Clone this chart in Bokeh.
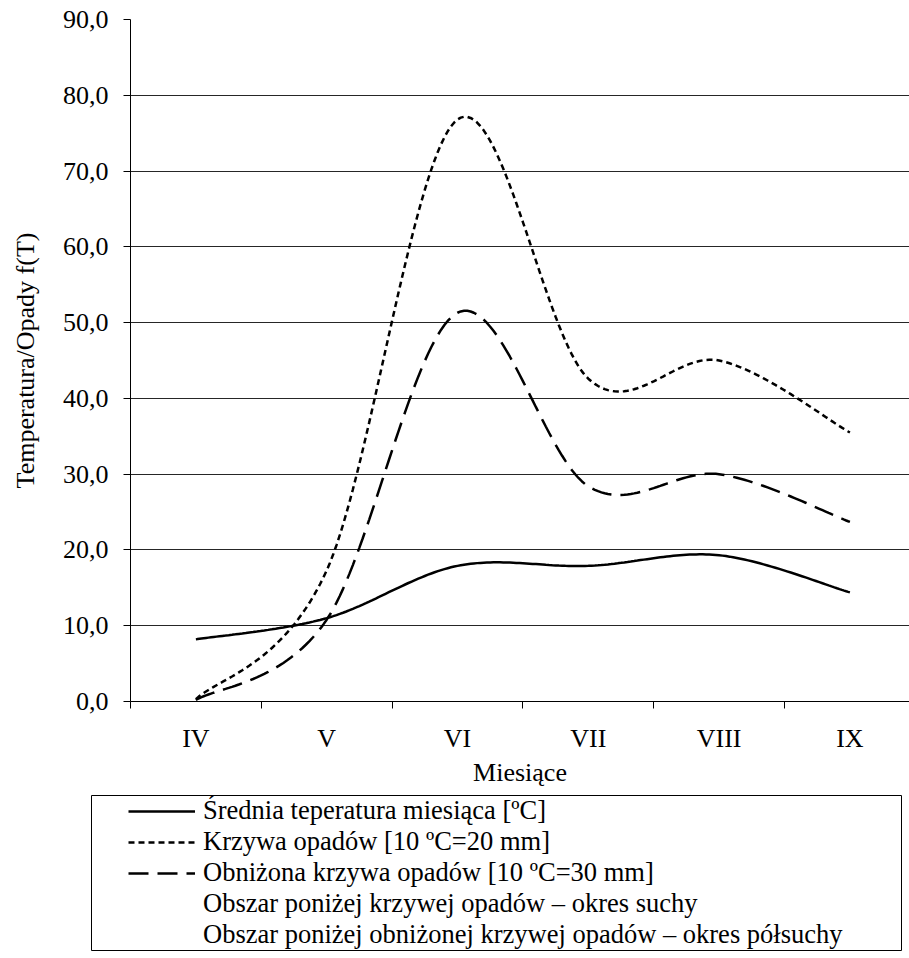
import numpy as np
from bokeh.plotting import figure
from bokeh.layouts import column, row
from bokeh.models import Range1d, FixedTicker, Legend, LegendItem, Spacer
from bokeh.embed import file_html
from bokeh.resources import INLINE

# ---- data ----
months = ["IV", "V", "VI", "VII", "VIII", "IX"]
temperatura = [8.2, 11.0, 17.9, 17.9, 19.3, 14.4]
krzywa_opadow = [0.3, 17.3, 76.8, 42.6, 45.0, 35.5]
obnizona_krzywa = [0.2, 10.8, 51.3, 28.4, 30.0, 23.7]
y_ticks = [0, 10, 20, 30, 40, 50, 60, 70, 80, 90]
y_tick_labels = ["0,0", "10,0", "20,0", "30,0", "40,0", "50,0", "60,0", "70,0", "80,0", "90,0"]
labels = ["Średnia teperatura miesiąca [ºC]",
          "Krzywa opadów [10 ºC=20 mm]",
          "Obniżona krzywa opadów [10 ºC=30 mm]",
          "Obszar poniżej krzywej opadów – okres suchy",
          "Obszar poniżej obniżonej krzywej opadów – okres półsuchy"]

FONT = "Liberation Serif"
FS = "26px"

x_pos = np.arange(len(months)) + 0.5


def smooth(xs, ys, n=40):
    """Excel-like smoothed line (Catmull-Rom through the data points)."""
    P = np.column_stack([xs, ys]).astype(float)
    out = []
    m = len(P)
    for i in range(m - 1):
        p0 = P[i - 1] if i > 0 else P[i]
        p1 = P[i]
        p2 = P[i + 1]
        p3 = P[i + 2] if i + 2 < m else P[i + 1]
        c1 = p1 + (p2 - p0) / 6.0
        c2 = p2 - (p3 - p1) / 6.0
        t = np.linspace(0, 1, n, endpoint=(i == m - 2))[:, None]
        b = ((1 - t) ** 3) * p1 + 3 * ((1 - t) ** 2) * t * c1 + 3 * (1 - t) * t ** 2 * c2 + t ** 3 * p2
        out.append(b)
    out = np.vstack(out)
    return out[:, 0], out[:, 1]


p = figure(width=909, height=795, output_backend="svg", toolbar_location=None,
           x_range=Range1d(0, 779 / 130.8), y_range=Range1d(0, 90),
           min_border_left=130, min_border_right=0, min_border_top=19,
           min_border_bottom=94)
p.outline_line_color = None
p.background_fill_color = "white"
p.border_fill_color = "white"

# axes
p.xaxis.ticker = FixedTicker(ticks=list(x_pos), minor_ticks=list(range(len(months) + 1)))
p.xaxis.major_label_overrides = {float(x): m for x, m in zip(x_pos, months)}
p.xaxis.major_tick_line_color = None
p.xaxis.major_tick_out = 0
p.xaxis.major_tick_in = 0
p.xaxis.minor_tick_out = 7
p.xaxis.minor_tick_in = 0
p.xaxis.minor_tick_line_color = "black"
p.xaxis.axis_line_color = "black"
p.xaxis.major_label_standoff = 15
p.xaxis.axis_label = "Miesiące"
p.xaxis.axis_label_standoff = 2

p.yaxis.ticker = FixedTicker(ticks=y_ticks, minor_ticks=[])
p.yaxis.major_label_overrides = {t: l for t, l in zip(y_ticks, y_tick_labels)}
p.yaxis.major_tick_out = 7
p.yaxis.major_tick_in = 0
p.yaxis.major_tick_line_color = "black"
p.yaxis.axis_line_color = "black"
p.yaxis.major_label_standoff = 15
p.yaxis.axis_label = "Temperatura/Opady f(T)"
p.yaxis.axis_label_standoff = 20

for ax in (p.xaxis[0], p.yaxis[0]):
    ax.major_label_text_font = FONT
    ax.major_label_text_font_size = FS
    ax.major_label_text_color = "black"
    ax.axis_label_text_font = FONT
    ax.axis_label_text_font_size = FS
    ax.axis_label_text_font_style = "normal"
    ax.axis_label_text_color = "black"

p.xgrid.grid_line_color = None
p.ygrid.grid_line_color = "black"
p.ygrid.grid_line_alpha = 0.85
p.ygrid.grid_line_width = 1

# curves
tx, ty = smooth(x_pos, temperatura)
kx, ky = smooth(x_pos, krzywa_opadow)
ox, oy = smooth(x_pos, obnizona_krzywa)

SOLID = dict(line_color="black", line_width=2.5)
DOT = dict(line_color="black", line_width=2.5, line_dash="6 4")
DASH = dict(line_color="black", line_width=2.5, line_dash="20 9")

p.varea(x=kx, y1=np.zeros_like(ky), y2=ky, fill_alpha=0, fill_color="white")
p.varea(x=ox, y1=np.zeros_like(oy), y2=oy, fill_alpha=0, fill_color="white")
p.line(tx, ty, **SOLID)
p.line(kx, ky, **DOT)
p.line(ox, oy, **DASH)

# ---- legend panel (boxed) ----
q = figure(width=811, height=156, output_backend="svg", toolbar_location=None,
           x_range=Range1d(0, 1), y_range=Range1d(0, 1),
           x_axis_location=None, y_axis_location=None,
           min_border_left=0, min_border_right=0, min_border_top=0,
           min_border_bottom=0)
q.grid.visible = False
q.outline_line_color = "black"
q.outline_line_width = 1
q.outline_line_alpha = 1
q.background_fill_color = "white"
q.border_fill_color = "white"

# legend proxies (kept outside the visible range of the legend panel)
off = dict(x=[5, 6], y=[5, 6])
l1 = q.line(**off, **SOLID)
l2 = q.line(**off, **DOT)
l3 = q.line(**off, **DASH)
l4 = q.varea(x=[5, 6], y1=[5, 5], y2=[6, 6], fill_alpha=0, fill_color="white")
l5 = q.varea(x=[5, 6], y1=[5, 5], y2=[6, 6], fill_alpha=0, fill_color="white")

legend = Legend(items=[LegendItem(label=labels[0], renderers=[l1]),
                       LegendItem(label=labels[1], renderers=[l2]),
                       LegendItem(label=labels[2], renderers=[l3]),
                       LegendItem(label=labels[3], renderers=[l4]),
                       LegendItem(label=labels[4], renderers=[l5])],
                location=(37, 1), orientation="vertical")
legend.border_line_color = None
legend.background_fill_alpha = 0
legend.padding = 0
legend.margin = 0
legend.spacing = -2
legend.glyph_width = 67
legend.glyph_height = 30
legend.label_height = 30
legend.label_standoff = 8
legend.label_text_font = FONT
legend.label_text_font_size = "26.5px"
legend.label_text_color = "black"
legend.label_text_baseline = "middle"
q.add_layout(legend, "center")

layout = column(p, row(Spacer(width=91, height=156), q, spacing=0), spacing=0)
open("out.html", "w").write(file_html(layout, INLINE))
